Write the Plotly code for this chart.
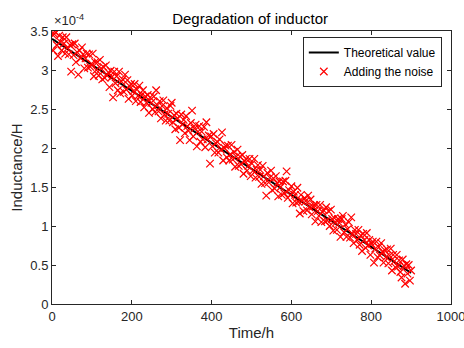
import plotly.graph_objects as go

# Theoretical degradation line (inductance in units of 1e-4 H)
line_time_h = [0, 900]
line_inductance_e4 = [3.40, 0.40]

# Noisy samples every 3 h, inductance in units of 1e-6 H
noise_time_h = list(range(0, 901, 3))
noise_inductance_e6 = [
    346, 325, 346, 348, 332, 318, 344, 336, 325, 342,
    334, 321, 342, 328, 320, 332, 298, 333, 319, 334,
    310, 323, 294, 325, 315, 329, 320, 302, 315, 321,
    303, 320, 304, 308, 321, 292, 310, 300, 310, 293,
    313, 302, 288, 304, 290, 306, 293, 297, 278, 299,
    291, 265, 298, 283, 292, 274, 298, 270, 285, 288,
    272, 294, 275, 287, 263, 279, 282, 267, 273, 282,
    260, 275, 267, 280, 259, 268, 274, 252, 266, 258,
    268, 245, 265, 258, 250, 266, 246, 274, 255, 247,
    260, 238, 254, 261, 243, 235, 251, 244, 235, 254,
    258, 233, 242, 224, 244, 238, 226, 210, 243, 230,
    236, 219, 241, 228, 222, 210, 232, 248, 215, 225,
    230, 202, 221, 228, 208, 221, 211, 227, 201, 233,
    211, 216, 180, 215, 202, 218, 194, 206, 208, 194,
    211, 198, 220, 184, 200, 203, 188, 203, 184, 192,
    204, 185, 195, 176, 189, 198, 177, 189, 179, 191,
    167, 183, 186, 171, 177, 186, 164, 180, 171, 186,
    162, 172, 178, 163, 172, 154, 177, 164, 155, 139,
    168, 156, 162, 171, 146, 161, 148, 164, 155, 138,
    157, 150, 140, 157, 142, 158, 170, 136, 146, 140,
    151, 129, 144, 140, 130, 149, 131, 116, 140, 132,
    119, 136, 132, 120, 139, 124, 134, 115, 125, 127,
    106, 127, 119, 113, 127, 105, 118, 120, 106, 124,
    107, 119, 100, 121, 109, 94, 110, 104, 95, 109,
    104, 86, 109, 113, 92, 102, 86, 96, 105, 85,
    111, 90, 78, 95, 90, 82, 95, 76, 88, 68,
    90, 82, 72, 91, 75, 82, 63, 77, 80, 53,
    71, 80, 60, 73, 62, 78, 67, 53, 69, 60,
    70, 52, 62, 71, 43, 63, 55, 47, 63, 48,
    56, 41, 34, 57, 49, 26, 51, 39, 50, 30,
    43,
]

y_ticks = [0, 0.5, 1, 1.5, 2, 2.5, 3, 3.5]
y_tick_text = ["0", "0.5", "1", "1.5", "2", "2.5", "3", "3.5"]
x_ticks = [0, 200, 400, 600, 800, 1000]

FONT = "Liberation Sans, Arial, Helvetica, sans-serif"
AX = "#262626"

fig = go.Figure()
fig.add_trace(go.Scatter(
    x=line_time_h, y=line_inductance_e4, mode="lines",
    name="Theoretical value", line=dict(color="black", width=2),
))
fig.add_trace(go.Scatter(
    x=noise_time_h, y=[v / 100 for v in noise_inductance_e6], mode="markers",
    name="Adding the noise",
    marker=dict(symbol="x-thin", size=7.5, color="red", line=dict(color="red", width=1.2)),
))

axis_common = dict(
    showgrid=False, zeroline=False, showline=True, mirror="ticks",
    linecolor=AX, linewidth=1, ticks="inside", ticklen=4, tickcolor=AX,
    tickfont=dict(family=FONT, size=13, color=AX), ticklabeloverflow="allow",
)

fig.update_layout(
    width=464, height=348,
    margin=dict(l=52, r=13, t=31, b=44),
    paper_bgcolor="white", plot_bgcolor="white",
    font=dict(family=FONT, color=AX),
    title=dict(text="Degradation of inductor", x=0.539, xanchor="center",
               y=0.947, yanchor="middle", font=dict(family=FONT, size=15, color="black")),
    xaxis=dict(range=[0, 1000], tickvals=x_ticks, automargin=False,
               title=dict(text="Time/h", font=dict(family=FONT, size=15, color=AX), standoff=4),
               **axis_common),
    yaxis=dict(range=[0, 3.5], tickvals=y_ticks, ticktext=y_tick_text, automargin=False,
               title=dict(text="Inductance/H", font=dict(family=FONT, size=15, color=AX), standoff=4),
               **axis_common),
    legend=dict(x=0.977, y=0.978, xanchor="right", yanchor="top",
                bgcolor="white", bordercolor=AX, borderwidth=1,
                font=dict(family=FONT, size=12, color="black"),
                tracegroupgap=0, itemwidth=30),
    showlegend=True,
)

fig.add_annotation(
    text="×10<sup>-4</sup>", xref="paper", yref="paper", x=0.0, y=1.0,
    xanchor="left", yanchor="bottom", showarrow=False,
    font=dict(family=FONT, size=13, color=AX), yshift=1,
)

fig.write_html("out.html", config={"displayModeBar": False},
               post_script="document.body.style.margin='0px';")
